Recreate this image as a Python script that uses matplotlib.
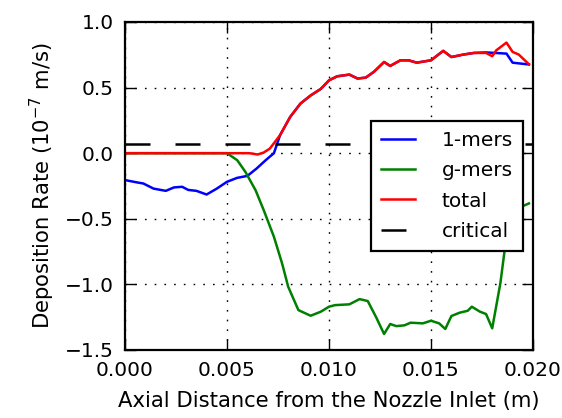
import matplotlib
matplotlib.use("Agg")
import matplotlib.pyplot as plt
from matplotlib.ticker import FormatStrFormatter, FuncFormatter

# values (x in m, rate in 1e-7 m/s)
X_ONE = [0.0, 0.0006, 0.0009, 0.0014, 0.0020, 0.0024, 0.0028, 0.0031, 0.0035,
         0.0040, 0.0045, 0.0050, 0.0055, 0.0060, 0.00645, 0.0069, 0.0073,
         0.0076, 0.0081, 0.0086, 0.0091, 0.0096, 0.0100, 0.0104, 0.0110,
         0.0114, 0.0118, 0.0122, 0.0127, 0.0130, 0.0135, 0.0139, 0.0143,
         0.0150, 0.0156, 0.0160, 0.0166, 0.0171, 0.0177, 0.0187, 0.0190, 0.0198]
Y_ONE = [-0.205, -0.223, -0.231, -0.270, -0.287, -0.261, -0.256, -0.280, -0.287,
         -0.315, -0.270, -0.218, -0.188, -0.173, -0.117, -0.053, 0.000,
         0.137, 0.277, 0.378, 0.440, 0.490, 0.555, 0.586, 0.599,
         0.569, 0.576, 0.620, 0.695, 0.665, 0.708, 0.708, 0.690,
         0.708, 0.780, 0.733, 0.752, 0.764, 0.768, 0.759, 0.690, 0.676]

X_G = [0.0, 0.0050, 0.0055, 0.0059, 0.0064, 0.0068, 0.0073, 0.0077, 0.0080,
       0.0085, 0.0091, 0.0096, 0.0100, 0.0103, 0.0110, 0.0115, 0.0119, 0.0123,
       0.0127, 0.0130, 0.0133, 0.0137, 0.0140, 0.0146, 0.0150, 0.0154, 0.0157,
       0.0160, 0.0164, 0.0168, 0.0170, 0.0174, 0.0177, 0.0180, 0.0184, 0.0186,
       0.0190, 0.0194, 0.0198]
Y_G = [0.0, 0.0, -0.053, -0.142, -0.282, -0.434, -0.637, -0.840, -1.018,
       -1.196, -1.239, -1.208, -1.170, -1.158, -1.152, -1.112, -1.127, -1.247,
       -1.378, -1.302, -1.318, -1.312, -1.292, -1.297, -1.277, -1.297, -1.340,
       -1.241, -1.216, -1.201, -1.170, -1.208, -1.226, -1.335, -0.992, -0.752,
       -0.520, -0.410, -0.383]

X_TOT = [0.0, 0.0061, 0.0065, 0.0068, 0.0071, 0.0076, 0.0081, 0.0086, 0.0091,
         0.0096, 0.0100, 0.0104, 0.0110, 0.0114, 0.0118, 0.0122, 0.0127, 0.0130,
         0.0135, 0.0139, 0.0143, 0.0150, 0.0156, 0.0160, 0.0166, 0.0171, 0.0177,
         0.0180, 0.0182, 0.0187, 0.0190, 0.0193, 0.0198]
Y_TOT = [0.0, 0.0, -0.010, 0.005, 0.035, 0.137, 0.277, 0.378, 0.440,
         0.490, 0.555, 0.586, 0.599, 0.569, 0.576, 0.620, 0.695, 0.665,
         0.708, 0.708, 0.690, 0.708, 0.780, 0.733, 0.752, 0.764, 0.764,
         0.739, 0.784, 0.843, 0.772, 0.752, 0.678]

CRITICAL = 0.07
X_RANGE = [0.0, 0.02]

FS = 14.5
plt.rcParams["font.family"] = "DejaVu Sans"
plt.rcParams["mathtext.fontset"] = "dejavusans"
plt.rcParams["mathtext.default"] = "regular"

fig = plt.figure(figsize=(5.62, 4.18), dpi=100)
ax = fig.add_axes([0.2224, 0.1627, 0.7260, 0.7847])

ax.plot(X_ONE, Y_ONE, color="#0000ff", lw=1.8, label="1-mers")
ax.plot(X_G, Y_G, color="#008000", lw=1.8, label="g-mers")
ax.plot(X_TOT, Y_TOT, color="#ff0000", lw=1.8, label="total")
ax.plot(X_RANGE, [CRITICAL, CRITICAL], color="black", lw=1.8,
        linestyle=(0, (10, 10)), label="critical")

ax.set_xlim(0, 0.02)
ax.set_ylim(-1.5, 1.0)
ax.set_xticks([0.0, 0.005, 0.010, 0.015, 0.020])
ax.set_yticks([-1.5, -1.0, -0.5, 0.0, 0.5, 1.0])
ax.xaxis.set_major_formatter(FormatStrFormatter("%.3f"))
ax.yaxis.set_major_formatter(FuncFormatter(lambda v, p: f"{v:.1f}".replace("-", "\u2212")))
ax.tick_params(direction="in", length=8, width=1, labelsize=FS, pad=8,
               top=True, right=True)
for s in ax.spines.values():
    s.set_linewidth(1.6)
ax.grid(True, color="black", linestyle=(0, (1.2, 5.8)), linewidth=1.0)

ax.set_xlabel("Axial Distance from the Nozzle Inlet (m)", fontsize=15.2, labelpad=8)
ax.set_ylabel(r"Deposition Rate (10$^{-7}$ m/s)", fontsize=15.2, labelpad=6)

leg = ax.legend(loc="center right", fontsize=FS, fancybox=False,
                framealpha=1, edgecolor="black", handlelength=1.7,
                handletextpad=1.3, labelspacing=0.55, borderpad=0.5,
                borderaxespad=0.5)
leg.get_frame().set_linewidth(1.6)

fig.savefig("out.png", dpi=100)
